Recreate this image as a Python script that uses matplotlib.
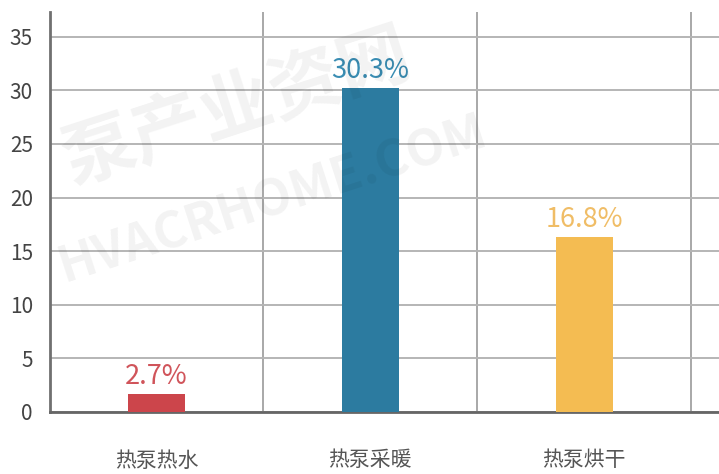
import matplotlib
matplotlib.use('Agg')
import matplotlib.pyplot as plt
import numpy as np

plt.rcParams['font.family'] = ['Noto Sans CJK SC', 'DejaVu Sans']

# data
categories = ['热泵热水', '热泵采暖', '热泵烘干']
heights = [1.7, 30.2, 16.3]
labels = ['2.7%', '30.3%', '16.8%']
bar_colors = ['#CC454B', '#2C7BA0', '#F4BC52']
text_colors = ['#D0545A', '#3A8DB3', '#F0BD66']
yticks = [0, 5, 10, 15, 20, 25, 30, 35]

fig = plt.figure(figsize=(7.19, 4.74), dpi=100)
ax = fig.add_axes([49.5 / 719, 62 / 474, 1 - 49.5 / 719, 400 / 474])

x = np.arange(len(categories))
ax.bar(x, heights, width=0.266, color=bar_colors, zorder=3)

for xi, h, lab, c in zip(x, heights, labels, text_colors):
    ax.annotate(lab, (xi, h), xytext=(0, 3), textcoords='offset points',
                ha='center', va='bottom', fontsize=19.5, color=c, zorder=4)

ax.set_xlim(-0.5, 2.63)
ax.set_ylim(0, 37.3)
ax.set_yticks(yticks)
ax.set_yticklabels([str(t) for t in yticks], fontsize=15, color='#444444')

# vertical grid lines sit between categories
ax.set_xticks([0.5, 1.5, 2.5], minor=True)
ax.set_xticks(x)
ax.set_xticklabels(categories, fontsize=15, color='#555555')
ax.tick_params(axis='x', which='major', length=0, pad=27)
ax.tick_params(axis='x', which='minor', length=0)
ax.tick_params(axis='y', length=0, pad=12)

ax.grid(True, axis='y', color='#b5b5b5', linewidth=1.4, zorder=0)
ax.grid(True, axis='x', which='minor', color='#9a9a9a', linewidth=1.2, zorder=0)

for s in ['top', 'right']:
    ax.spines[s].set_visible(False)
ax.spines['left'].set_color('#707070')
ax.spines['left'].set_linewidth(2)
ax.spines['bottom'].set_color('#666666')
ax.spines['bottom'].set_linewidth(2)

# faint watermark
fig.text(0.33, 0.77, '泵产业资网', fontsize=52, color='#000000', alpha=0.05,
         rotation=18, ha='center', va='center', fontweight='bold')
fig.text(0.38, 0.58, 'HVACRHOME.COM', fontsize=36, color='#000000', alpha=0.05,
         rotation=18, ha='center', va='center', fontweight='bold')

plt.savefig('out.png', dpi=100)
